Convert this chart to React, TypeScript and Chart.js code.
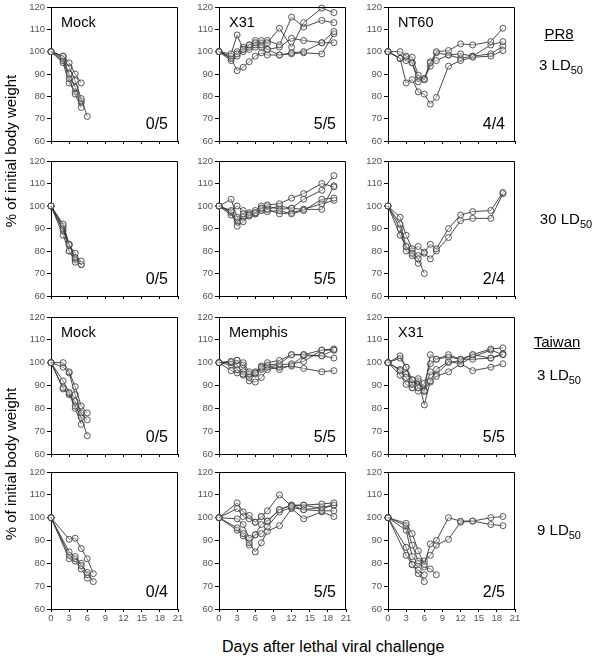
import React, { useEffect, useRef } from "react";
import { Chart, registerables } from "chart.js";

Chart.register(...registerables);

// ---- Data ----
// Measurement days (each mouse series is a prefix of one of these)
const DAYS_A = [0, 2, 3, 4, 5, 6, 7, 8, 10, 12, 14, 17, 19];
const DAYS_B = [0, 3, 4, 5, 6, 7, 8, 10, 12, 14, 17, 19];

const X_MIN = 0;
const X_MAX = 21;
const X_STEP = 3;
const Y_MIN = 60;
const Y_MAX = 120;
const Y_STEP = 10;

// Row 1: PR8, 3 LD50
const PR8_3_MOCK = [
  [100, 98, 95, 90, 86],
  [100, 98, 93, 87, 79, 71],
  [100, 97, 90, 84, 78],
  [100, 96, 88, 81, 75],
  [100, 95, 86, 82, 77],
];
const PR8_3_X31 = [
  [100, 99, 107.5, 101, 103, 104, 105, 104, 110.5, 102, 113, 119.5, 117.5],
  [100, 98, 99, 102, 103, 105, 103, 105, 103, 115.5, 111, 114, 113],
  [100, 97, 100, 101, 102, 103, 104, 101, 102, 106, 105, 104, 104],
  [100, 96, 98, 100, 101, 102, 102, 101, 98.5, 99.5, 100, 104, 109],
  [100, 97, 91.5, 93, 95.5, 98, 99.5, 98.5, 98.5, 99, 99.5, 99, 108],
];
const PR8_3_NT60 = [
  [100, 97, 86, 87.5, 82, 81, 76.5, 79.5, 93.5, 96, 97.5, 98, 100.5],
  [100, 100, 98, 97.5, 89.5, 87.5, 95, 100, 100.5, 103.5, 103, 104.5, 110.5],
  [100, 97, 96, 95, 86.5, 88, 93.5, 99.5, 98.5, 99, 98, 103, 104.5],
  [100, 97, 97.5, 95, 88, 87.5, 95.5, 96, 98.5, 97, 98, 99, 102.5],
];

// Row 2: PR8, 30 LD50
const PR8_30_MOCK = [
  [100, 92, 83, 77, 75.5],
  [100, 91, 82.5, 79, 74],
  [100, 90, 80, 75],
  [100, 89, 83, 76, 74],
  [100, 87, 80, 76.5],
];
const PR8_30_X31 = [
  [100, 103, 95, 96.5, 96, 97, 99, 100.5, 101, 103.5, 105.5, 110, 108.5],
  [100, 98, 100, 98, 97, 98, 100, 98.5, 100, 99, 103, 107, 113.5],
  [100, 97.5, 91, 93, 95.5, 96.5, 98, 97.5, 98, 96.5, 98, 103, 103.5],
  [100, 96, 93, 95.5, 96, 96.5, 99, 98.5, 96.5, 97, 98.5, 101, 102.5],
  [100, 97, 94, 95, 96.5, 97, 98, 100, 98.5, 99, 98.5, 98.5, 109],
];
const PR8_30_NT60 = [
  [100, 92, 82, 79, 76.5, 70],
  [100, 90, 80, 78, 74.5],
  [100, 95, 87, 81, 82, 79.5, 83, 81, 90, 96, 97.5, 98, 106],
  [100, 87, 82, 80, 78, 79, 76.5, 80, 86, 93.5, 94.5, 94.5, 105.5],
];

// Row 3: Taiwan, 3 LD50
const TW_3_MOCK = [
  [100, 100, 96, 89.5, 81, 78],
  [100, 98, 95.5, 86, 78, 75],
  [100, 92, 87, 81, 76, 68],
  [100, 89, 86.5, 80, 73],
  [100, 88.5, 86, 83, 77],
];
const TW_3_MEMPHIS = [
  [100, 100.5, 101, 100, 96, 95.5, 98, 100, 101, 103.5, 103.5, 105.5, 105.5],
  [100, 100.5, 101, 99, 95, 96, 98.5, 99, 99.5, 103.5, 103.5, 103, 102],
  [100, 100, 99, 95, 93.5, 95.5, 97, 98, 99, 99.5, 100.5, 105.5, 106],
  [100, 99, 97, 94.5, 92, 91.5, 93.5, 97, 98, 98.5, 97.5, 96, 96.5],
  [100, 96.5, 95.5, 96, 94, 95, 97.5, 98.5, 97, 99, 103, 103, 105.5],
];
const TW_3_X31 = [
  [100, 103, 98, 92.5, 89, 87.5, 103.5, 101.5, 103.5, 101.5, 103.5, 106, 106.5],
  [100, 102, 98, 90.5, 87.5, 91, 99.5, 101.5, 102.5, 101.5, 101.5, 102, 103.5],
  [100, 96.5, 93.5, 89, 93, 81.5, 92, 97, 100.5, 99.5, 102.5, 105.5, 103.5],
  [100, 94.5, 90.5, 89, 92, 88, 91.5, 94, 96, 99.5, 96.5, 98, 99.5],
  [100, 97, 95, 92.5, 89, 87.5, 96, 95, 100, 101, 103.5, 102, 104],
];

// Row 4: Taiwan, 9 LD50
const TW_9_MOCK = [
  [100, 90.5, 91, 86.5, 82, 75.5],
  [100, 85, 83, 79, 76, 72],
  [100, 83.5, 82, 80, 75],
  [100, 82, 81, 77.5, 73.5],
];
const TW_9_MEMPHIS = [
  [100, 106.5, 102.5, 101, 98, 100.5, 103, 110, 105, 105.5, 106, 106.5],
  [100, 104, 100.5, 99.5, 98, 100.5, 98.5, 103.5, 105.5, 103.5, 104.5, 105.5],
  [100, 99.5, 97, 91, 92.5, 93, 96, 102.5, 104.5, 103.5, 103, 103],
  [100, 95.5, 93, 89, 85, 89, 94, 96.5, 104, 99.5, 102.5, 100.5],
  [100, 94.5, 92, 88, 92.5, 97, 98.5, 103.5, 105.5, 105.5, 104, 105.5],
];
const TW_9_X31 = [
  [100, 97.5, 93, 85.5, 79.5, 88.5, 90, 100, 98.5, 98.5, 97, 96.5],
  [100, 96.5, 88, 81, 81, 83.5, 88, 90.5, 98, 98.5, 100, 100.5],
  [100, 94.5, 83, 80, 78.5, 77.5, 75],
  [100, 87, 79.5, 77, 75],
  [100, 83.5, 79.5, 75.5, 72],
];

const PANEL_NAMES = [
  ["Mock", "X31", "NT60"],
  ["", "", ""],
  ["Mock", "Memphis", "X31"],
  ["", "", ""],
];
const SURVIVAL = [
  ["0/5", "5/5", "4/4"],
  ["0/5", "5/5", "2/4"],
  ["0/5", "5/5", "5/5"],
  ["0/4", "5/5", "2/5"],
];
const SERIES = [
  [PR8_3_MOCK, PR8_3_X31, PR8_3_NT60],
  [PR8_30_MOCK, PR8_30_X31, PR8_30_NT60],
  [TW_3_MOCK, TW_3_MEMPHIS, TW_3_X31],
  [TW_9_MOCK, TW_9_MEMPHIS, TW_9_X31],
];
const ROW_DAYS = [DAYS_A, DAYS_A, DAYS_A, DAYS_B];

// ---- Layout ----
const FONT = '"Liberation Sans", Arial, Helvetica, sans-serif';
const COL_LEFT = [51, 219, 388];
const PLOT_W = 127;
const ROW_TOP = [7, 161, 317, 472];
const ROW_H = [134, 135, 137, 137];
const Y_AXIS_W = 40;
const X_AXIS_H = 18;
const PAD_TOP = 8;
const PAD_RIGHT = 10;

const decorPlugin = {
  id: "decor",
  afterDraw(chart: any, _args: any, opts: any) {
    const { ctx, chartArea: a } = chart;
    ctx.save();
    ctx.strokeStyle = "#000";
    ctx.lineWidth = 1;
    const t = Math.round(a.top) + 0.5;
    const r = Math.round(a.right) - 0.5;
    const b = Math.round(a.bottom);
    ctx.beginPath();
    ctx.moveTo(Math.round(a.left), t);
    ctx.lineTo(r, t);
    ctx.lineTo(r, b);
    ctx.stroke();
    ctx.fillStyle = "#000";
    ctx.textBaseline = "alphabetic";
    if (opts.name) {
      ctx.font = `14.5px ${FONT}`;
      ctx.textAlign = "left";
      ctx.fillText(opts.name, a.left + 10, a.top + 20);
    }
    if (opts.survival) {
      ctx.font = `16px ${FONT}`;
      ctx.textAlign = "right";
      ctx.fillText(opts.survival, a.right - 10, a.bottom - 12.5);
    }
    ctx.restore();
  },
};

function Panel({ row, col }: { row: number; col: number }) {
  const ref = useRef<HTMLCanvasElement>(null);
  const W = Y_AXIS_W + PLOT_W + PAD_RIGHT;
  const H = PAD_TOP + ROW_H[row] + X_AXIS_H;
  const left = COL_LEFT[col] - Y_AXIS_W;
  const top = ROW_TOP[row] - PAD_TOP;
  const showX = row === 3;

  useEffect(() => {
    const days = ROW_DAYS[row];
    const mice = SERIES[row][col];
    const zeroPad = (s: any) => {
      s.paddingTop = 0;
      s.paddingBottom = 0;
      s.paddingLeft = 0;
      s.paddingRight = 0;
    };
    const chart = new Chart(ref.current!, {
      type: "line",
      data: {
        datasets: mice.map((m) => ({
          data: m.map((v, i) => ({ x: days[i], y: v })),
          borderColor: "#333",
          borderWidth: 0.9,
          pointRadius: 3,
          pointBorderWidth: 0.9,
          pointBorderColor: "#444",
          pointBackgroundColor: "rgba(255,255,255,0.35)",
          fill: false,
          tension: 0,
          clip: false as any,
        })),
      },
      options: {
        animation: false,
        responsive: false,
        layout: { padding: { left: 0, top: PAD_TOP, right: PAD_RIGHT, bottom: 0 } },
        plugins: {
          legend: { display: false },
          tooltip: { enabled: false },
          decor: { name: PANEL_NAMES[row][col], survival: SURVIVAL[row][col] },
        } as any,
        scales: {
          x: {
            type: "linear",
            min: X_MIN,
            max: X_MAX,
            ticks: {
              stepSize: X_STEP,
              display: showX,
              color: "#555",
              font: { size: 9.5, family: FONT },
              padding: 1,
              maxRotation: 0,
            },
            grid: { drawOnChartArea: false, drawTicks: true, tickLength: 3, color: "#000" },
            border: { display: true, color: "#000", width: 1 },
            afterFit: (s: any) => {
              s.height = X_AXIS_H;
              zeroPad(s);
            },
          },
          y: {
            type: "linear",
            min: Y_MIN,
            max: Y_MAX,
            ticks: {
              stepSize: Y_STEP,
              color: "#555",
              font: { size: 9.5, family: FONT },
              padding: 2,
            },
            grid: { drawOnChartArea: false, drawTicks: true, tickLength: 4, color: "#000" },
            border: { display: true, color: "#000", width: 1 },
            afterFit: (s: any) => {
              s.width = Y_AXIS_W;
              zeroPad(s);
            },
          },
        },
      },
      plugins: [decorPlugin as any],
    });
    return () => chart.destroy();
  }, [row, col]);

  return (
    <canvas
      ref={ref}
      width={W}
      height={H}
      style={{ position: "absolute", left, top, width: W, height: H }}
    />
  );
}

function Label({
  cx,
  baseline,
  size,
  children,
  underline,
}: {
  cx: number;
  baseline: number;
  size: number;
  children: React.ReactNode;
  underline?: boolean;
}) {
  return (
    <div
      style={{
        position: "absolute",
        left: cx - 70,
        width: 140,
        top: baseline - 0.8465 * size,
        textAlign: "center",
        fontFamily: FONT,
        fontSize: size,
        lineHeight: `${size}px`,
        whiteSpace: "nowrap",
        color: "#000",
        textDecoration: underline ? "underline" : "none",
      }}
    >
      {children}
    </div>
  );
}

function LD({ n }: { n: string }) {
  return (
    <>
      {n} LD
      <span style={{ fontSize: 11, lineHeight: "11px", verticalAlign: "-4px" }}>50</span>
    </>
  );
}

function YTitle({ cy }: { cy: number }) {
  return (
    <div
      style={{
        position: "absolute",
        left: 11 - 110,
        top: cy - 10,
        width: 220,
        height: 20,
        lineHeight: "20px",
        textAlign: "center",
        fontFamily: FONT,
        fontSize: 15,
        whiteSpace: "nowrap",
        transform: "rotate(-90deg)",
        transformOrigin: "50% 50%",
      }}
    >
      % of initial body weight
    </div>
  );
}

export default function App() {
  const panels: React.ReactNode[] = [];
  for (let r = 0; r < 4; r++) {
    for (let c = 0; c < 3; c++) {
      panels.push(<Panel key={`${r}-${c}`} row={r} col={c} />);
    }
  }
  return (
    <div
      style={{
        position: "absolute",
        left: 0,
        top: 0,
        width: 596,
        height: 660,
        background: "#fff",
        overflow: "hidden",
      }}
    >
      {panels}
      <YTitle cy={151} />
      <YTitle cy={464} />
      <Label cx={559} baseline={39} size={15} underline>
        PR8
      </Label>
      <Label cx={561} baseline={70} size={15}>
        <LD n="3" />
      </Label>
      <Label cx={566} baseline={224} size={15}>
        <LD n="30" />
      </Label>
      <Label cx={557} baseline={347} size={15} underline>
        Taiwan
      </Label>
      <Label cx={559} baseline={380} size={15}>
        <LD n="3" />
      </Label>
      <Label cx={559} baseline={535} size={15}>
        <LD n="9" />
      </Label>
      <Label cx={292} baseline={653} size={16}>
        Days after lethal viral challenge
      </Label>
    </div>
  );
}
